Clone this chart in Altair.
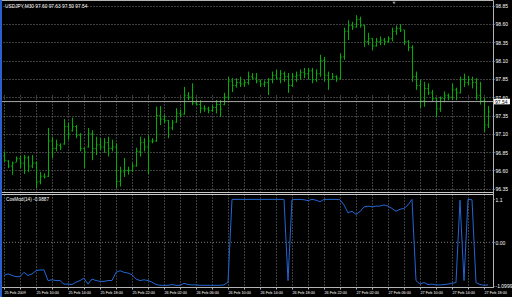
import altair as alt
import pandas as pd

# ---------------- data ----------------
highs = [96.86, 96.74, 96.72, 96.79, 96.80, 96.81, 96.80, 96.81, 96.72, 96.58,
         96.56, 97.18, 97.06, 97.02, 96.97, 97.30, 97.25, 97.32, 97.22, 97.11,
         96.91, 97.18, 97.15, 97.06, 97.04, 97.04, 97.06, 97.02, 96.97, 96.65,
         96.77, 96.65, 96.70, 96.91, 97.06, 97.04, 97.08, 97.04, 97.47, 97.48,
         97.36, 97.29, 97.29, 97.45, 97.43, 97.74, 97.67, 97.79, 97.56, 97.56,
         97.49, 97.47, 97.49, 97.56, 97.56, 97.66, 97.88, 97.86, 97.86, 97.88,
         97.84, 97.95, 97.93, 97.93, 97.84, 97.83, 97.86, 97.95, 97.98, 97.97,
         97.95, 97.93, 97.93, 97.95, 97.98, 98.00, 98.00, 98.00, 97.98, 98.18,
         98.15, 97.95, 97.93, 97.90, 98.20, 98.55, 98.65, 98.63, 98.72, 98.70,
         98.59, 98.48, 98.41, 98.41, 98.43, 98.41, 98.43, 98.55, 98.58, 98.60,
         98.52, 98.38, 98.31, 97.95, 97.84, 97.81, 97.79, 97.70, 97.59, 97.61,
         97.68, 97.65, 97.79, 97.73, 97.88, 97.92, 97.89, 97.88, 97.86, 97.81,
         97.59, 97.48]
lows = [96.72, 96.63, 96.54, 96.71, 96.63, 96.55, 96.58, 96.63, 96.36, 96.41,
        96.49, 96.51, 96.77, 96.86, 96.88, 96.95, 97.02, 97.13, 97.04, 96.86,
        96.63, 96.91, 96.74, 96.81, 96.88, 96.84, 96.79, 96.86, 96.36, 96.38,
        96.51, 96.54, 96.58, 96.65, 96.79, 96.86, 96.55, 96.97, 96.99, 97.22,
        97.25, 97.04, 97.15, 97.25, 97.33, 97.36, 97.56, 97.49, 97.49, 97.38,
        97.40, 97.38, 97.40, 97.38, 97.33, 97.49, 97.56, 97.67, 97.73, 97.74,
        97.74, 97.77, 97.84, 97.79, 97.74, 97.74, 97.63, 97.79, 97.84, 97.79,
        97.81, 97.66, 97.74, 97.81, 97.84, 97.86, 97.84, 97.79, 97.81, 97.88,
        97.81, 97.70, 97.84, 97.81, 97.84, 98.11, 98.38, 98.52, 98.55, 98.55,
        98.29, 98.31, 98.24, 98.29, 98.31, 98.31, 98.34, 98.36, 98.45, 98.49,
        98.31, 98.23, 97.81, 97.70, 97.45, 97.47, 97.63, 97.54, 97.33, 97.40,
        97.53, 97.56, 97.56, 97.56, 97.65, 97.74, 97.76, 97.72, 97.56, 97.50,
        97.13, 97.18]
opens = [96.80, 96.73, 96.66, 96.71, 96.76, 96.70, 96.77, 96.66, 96.70, 96.45,
         96.52, 96.52, 97.00, 96.90, 96.94, 96.96, 97.20, 97.14, 97.20, 97.08,
         96.90, 96.92, 97.10, 96.90, 96.95, 96.92, 96.98, 96.90, 96.92, 96.45,
         96.58, 96.60, 96.60, 96.66, 96.86, 96.98, 96.92, 97.00, 97.00, 97.35,
         97.30, 97.28, 97.18, 97.26, 97.38, 97.37, 97.62, 97.60, 97.52, 97.50,
         97.45, 97.44, 97.42, 97.46, 97.50, 97.50, 97.60, 97.82, 97.76, 97.80,
         97.78, 97.80, 97.88, 97.86, 97.82, 97.78, 97.80, 97.84, 97.90, 97.86,
         97.92, 97.88, 97.76, 97.88, 97.90, 97.94, 97.92, 97.96, 97.84, 97.92,
         98.10, 97.90, 97.84, 97.88, 97.86, 98.15, 98.50, 98.58, 98.56, 98.66,
         98.58, 98.36, 98.40, 98.30, 98.36, 98.38, 98.36, 98.40, 98.50, 98.54,
         98.52, 98.36, 98.28, 97.88, 97.76, 97.55, 97.72, 97.66, 97.58, 97.44,
         97.58, 97.62, 97.60, 97.70, 97.66, 97.84, 97.80, 97.84, 97.80, 97.62,
         97.55, 97.22]
closes = [96.74, 96.66, 96.70, 96.76, 96.70, 96.78, 96.66, 96.70, 96.44, 96.52,
          96.51, 97.00, 96.90, 96.95, 96.92, 97.20, 97.10, 97.20, 97.08, 96.90,
          96.85, 97.10, 96.90, 96.95, 96.92, 96.98, 96.90, 96.92, 96.45, 96.58,
          96.60, 96.60, 96.66, 96.86, 96.98, 96.92, 97.00, 97.00, 97.35, 97.30,
          97.28, 97.18, 97.25, 97.38, 97.36, 97.62, 97.60, 97.52, 97.50, 97.45,
          97.44, 97.42, 97.46, 97.50, 97.44, 97.60, 97.82, 97.76, 97.80, 97.78,
          97.80, 97.88, 97.86, 97.82, 97.78, 97.80, 97.84, 97.90, 97.86, 97.92,
          97.88, 97.76, 97.88, 97.90, 97.94, 97.92, 97.96, 97.84, 97.92, 98.10,
          97.90, 97.84, 97.88, 97.86, 98.15, 98.50, 98.58, 98.56, 98.66, 98.58,
          98.36, 98.40, 98.30, 98.36, 98.38, 98.36, 98.40, 98.50, 98.54, 98.52,
          98.36, 98.28, 97.88, 97.76, 97.55, 97.72, 97.66, 97.58, 97.44, 97.58,
          97.62, 97.60, 97.70, 97.66, 97.84, 97.80, 97.84, 97.80, 97.62, 97.55,
          97.22, 97.40]
cosmod = [-0.84, -0.80, -0.84, -0.87, -0.87, -0.76, -0.84, -0.80, -0.72, -0.70,
          -0.70, -0.97, -0.95, -0.97, -0.97, -1.06, -1.06, -1.07, -1.01, -0.97,
          -0.91, -1.06, -0.93, -0.97, -0.99, -0.99, -0.97, -0.97, -0.76, -0.72,
          -0.76, -0.78, -0.82, -0.93, -0.97, -0.95, -0.97, -1.01, -1.07, -1.09,
          -1.09, -1.09, -1.07, -1.09, -1.09, -1.04, -1.07, -1.08, -1.08, -1.09,
          -1.09, -1.09, -1.09, -1.09, -1.09, -1.08, -1.01, 1.09, 1.09, 1.09,
          1.09, 1.09, 1.09, 1.09, 1.09, 1.09, 1.09, 1.09, 1.09, 1.09,
          1.09, -0.97, 1.08, 1.09, 1.09, 1.08, 1.06, 1.09, 1.07, 1.03,
          1.09, 1.09, 1.09, 1.09, 1.08, 0.95, 0.75, 0.79, 0.71, 0.78,
          0.90, 0.92, 0.90, 0.92, 0.92, 0.95, 0.92, 0.86, 0.79, 0.84,
          0.86, 0.95, 1.09, -0.97, -1.06, -1.02, -1.07, -1.06, -1.08, -1.08,
          -1.07, -1.06, -1.04, -1.02, 1.07, -0.97, 1.09, 1.08, -1.02, -1.07,
          -1.09, -1.08]
time_labels = ["25 Feb 2009", "25 Feb 10:00", "25 Feb 14:00", "25 Feb 18:00",
               "25 Feb 22:00", "26 Feb 02:00", "26 Feb 06:00", "26 Feb 10:00",
               "26 Feb 14:00", "26 Feb 18:00", "26 Feb 22:00", "27 Feb 02:00",
               "27 Feb 06:00", "27 Feb 10:00", "27 Feb 14:00", "27 Feb 18:00"]
price_ticks = [96.35, 96.60, 96.85, 97.10, 97.35, 97.60, 97.85, 98.10, 98.35, 98.60, 98.85]
ind_ticks = [1.1, 0.0, -1.0999]
ind_tick_labels = ["1.1", "0.00", "-1.0999"]
last_price = [97.54]
title_text = "USDJPY,M30  97.60 97.63 97.50 97.54"
ind_text = "CosMod(14) -0.9887"

GREEN = "#00b000"
BLUE = "#2266d4"
GRID = "#7a7a7a"
FRAME = "#b4b4b4"
FONT = "Liberation Sans"

n = len(highs)
ohlc = pd.DataFrame({"bar": list(range(n)), "open": opens, "high": highs,
                     "low": lows, "close": closes})
ind = pd.DataFrame({"bar": list(range(n)), "cosmod": cosmod})
lp = pd.DataFrame({"p": last_price})
zero = pd.DataFrame({"z": [0.0]})
one = pd.DataFrame({"a": [0]})

lab_arr = "[" + ",".join("'%s'" % s for s in time_labels) + "]"
x_axis = alt.Axis(values=list(range(0, 121, 4)),
                  labelExpr=f"datum.value % 8 == 0 ? {lab_arr}[datum.value / 8] : ''",
                  title=None, grid=True, gridColor=GRID, gridDash=[1, 2], gridWidth=1,
                  domainColor=FRAME, tickColor=FRAME, tickSize=2,
                  labelColor="white", labelFont=FONT, labelFontSize=3.8,
                  labelAlign="left", labelPadding=1, labelOverlap=False,
                  labelFlush=False, labelBound=False)
x_scale = alt.Scale(domain=[-1, 122.25], range=[0, 493], nice=False, zero=False)
X = alt.X("bar:Q", scale=x_scale, axis=x_axis)

p_scale = alt.Scale(domain=[96.305, 98.9005], range=[192, 2], nice=False, zero=False)
p_axis = alt.Axis(orient="right", values=price_ticks, format=".2f", title=None,
                  grid=True, gridColor=GRID, gridDash=[1, 2], gridWidth=1,
                  domainColor=FRAME, tickColor=FRAME, tickSize=1, labelPadding=1,
                  labelColor="white", labelFont=FONT, labelFontSize=5,
                  labelAlign="left", labelBaseline="middle", labelOverlap=False,
                  labelFlush=False, labelBound=False)

i_scale = alt.Scale(domain=[-1.133, 1.227], range=[287, 194], nice=False, zero=False)
ind_vals = "[" + ",".join(str(v) for v in ind_ticks) + "]"
ind_labs = "[" + ",".join("'%s'" % s for s in ind_tick_labels) + "]"
i_axis = alt.Axis(orient="right", values=ind_ticks,
                  labelExpr=f"{ind_labs}[indexof({ind_vals}, datum.value)]",
                  title=None, grid=False, domainColor=FRAME, tickColor=FRAME,
                  tickSize=1, labelPadding=1, labelColor="white", labelFont=FONT,
                  labelFontSize=5, labelAlign="left", labelBaseline="middle",
                  labelOverlap=False, labelFlush=False, labelBound=False)

# ---------------- main price panel ----------------
wicks = alt.Chart(ohlc).mark_rule(color=GREEN, strokeWidth=1, xOffset=0.5).encode(
    x=X, y=alt.Y("high:Q", scale=p_scale, axis=p_axis), y2="low:Q")
open_t = alt.Chart(ohlc).mark_tick(color=GREEN, orient="horizontal", size=1.2,
                                    thickness=1, xOffset=-0.5).encode(
    x=X, y=alt.Y("open:Q", scale=p_scale, axis=p_axis))
close_t = alt.Chart(ohlc).mark_tick(color=GREEN, orient="horizontal", size=1.2,
                                     thickness=1, xOffset=1.5).encode(
    x=X, y=alt.Y("close:Q", scale=p_scale, axis=p_axis))
pline = alt.Chart(lp).mark_rule(color="#a8a8a8", strokeWidth=1).encode(
    y=alt.Y("p:Q", scale=p_scale, axis=p_axis))
tag = alt.Chart(lp).mark_point(shape="M-1.3,-0.45H1.3V0.45H-1.3Z", filled=True,
                               color="white", opacity=1, size=150).encode(
    x=alt.value(502), y=alt.Y("p:Q", scale=p_scale, axis=p_axis))
tag_txt = alt.Chart(lp).mark_text(align="left", baseline="middle", fontSize=5,
                                  font=FONT, color="black").encode(
    x=alt.value(495), y=alt.Y("p:Q", scale=p_scale, axis=p_axis),
    text=alt.Text("p:Q", format=".2f"))
main = alt.layer(wicks, open_t, close_t, pline, tag, tag_txt)

# ---------------- indicator panel ----------------
zero_rule = alt.Chart(zero).mark_rule(color=GRID, strokeDash=[1, 2], strokeWidth=1).encode(
    y=alt.Y("z:Q", scale=i_scale, axis=i_axis))
ind_line = alt.Chart(ind).mark_line(color=BLUE, strokeWidth=1).encode(
    x=X, y=alt.Y("cosmod:Q", scale=i_scale, axis=i_axis))
sub = alt.layer(zero_rule, ind_line)

# ---------------- frame & labels ----------------
sep1 = alt.Chart(one).mark_rule(color="#c8c8c8", strokeWidth=1).encode(
    x=alt.value(0), x2=alt.value(493), y=alt.value(192.5))
sep2 = alt.Chart(one).mark_rule(color="#c8c8c8", strokeWidth=1).encode(
    x=alt.value(0), x2=alt.value(493), y=alt.value(194.5))
left_edge = alt.Chart(one).mark_rule(color="#2a5fd0", strokeWidth=2).encode(
    x=alt.value(1), y=alt.value(0), y2=alt.value(297))
shift_mark = alt.Chart(one).mark_point(shape="triangle-down", filled=True,
                                       color="#9aa4b0", size=10, opacity=1).encode(
    x=alt.value(394), y=alt.value(3))
title_mark = alt.Chart(one).mark_text(text=title_text, align="left", baseline="middle",
                                      fontSize=4.8, font=FONT, color="white").encode(
    x=alt.value(5), y=alt.value(7))
ind_mark = alt.Chart(one).mark_text(text=ind_text, align="left", baseline="middle",
                                    fontSize=4.7, font=FONT, color="white").encode(
    x=alt.value(6), y=alt.value(199.5))

chart = alt.layer(main, sub, sep1, sep2, left_edge, shift_mark, title_mark, ind_mark).resolve_scale(
    y="independent"
).properties(
    width=493, height=287, autosize=alt.AutoSizeParams(type="none"),
    padding={"left": 0, "top": 0, "right": 19, "bottom": 10},
    background="black"
).configure_view(fill="black", stroke=FRAME, strokeWidth=1)

chart.save("out.html", embed_options={"renderer": "svg", "actions": False})
